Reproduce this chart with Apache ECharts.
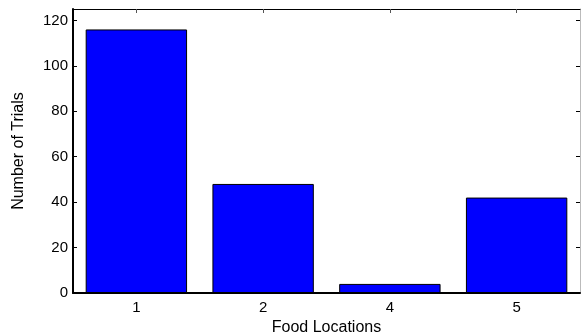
<!DOCTYPE html>
<html>
<head>
<meta charset="utf-8">
<script src="https://cdn.jsdelivr.net/npm/echarts@6/dist/echarts.min.js"></script>
<style>html,body{margin:0;padding:0;background:#fff;}#c{width:582px;height:335px;}</style>
</head>
<body>
<div id="c"></div>
<script>
var categories = ['1', '2', '4', '5'];
var trials = [116, 48, 4, 42];
var yTicks = [0, 20, 40, 60, 80, 100, 120];

var chart = echarts.init(document.getElementById('c'), null, {renderer: 'canvas'});
var font = 'Arial, "Liberation Sans", sans-serif';
chart.setOption({
  animation: false,
  grid: {left: 73, right: 2, top: 9, bottom: 42, containLabel: false, outerBoundsMode: 'none'},
  xAxis: [{
    type: 'category', data: categories, position: 'bottom',
    name: 'Food Locations', nameLocation: 'middle', nameGap: 24,
    nameTextStyle: {color: '#000', fontSize: 16, fontFamily: font},
    axisLine: {onZero: false, lineStyle: {color: '#000', width: 2}},
    axisTick: {show: true, inside: true, alignWithLabel: true, length: 4, lineStyle: {color: '#000'}},
    axisLabel: {color: '#000', fontSize: 15, fontFamily: font, margin: 7}
  }, {
    type: 'category', data: categories, position: 'top',
    axisLine: {onZero: false, lineStyle: {color: '#000', width: 1}},
    axisTick: {show: true, inside: true, alignWithLabel: true, length: 4, lineStyle: {color: '#555'}},
    axisLabel: {show: false}
  }],
  yAxis: [{
    type: 'value', min: 0, max: 125, interval: 20, position: 'left',
    name: 'Number of Trials', nameLocation: 'middle', nameGap: 46,
    nameTextStyle: {color: '#000', fontSize: 16, fontFamily: font},
    axisLine: {show: true, onZero: false, lineStyle: {color: '#000', width: 2}},
    axisTick: {show: true, inside: true, length: 4, lineStyle: {color: '#000'}},
    axisLabel: {color: '#000', fontSize: 15, fontFamily: font, margin: 5,
      formatter: function (v) { return yTicks.indexOf(v) >= 0 ? String(v) : ''; }},
    splitLine: {show: false}
  }, {
    type: 'value', min: 0, max: 125, interval: 20, position: 'right',
    axisLine: {show: true, onZero: false, lineStyle: {color: '#bbb', width: 1}},
    axisTick: {show: true, inside: true, length: 4, lineStyle: {color: '#000'}},
    axisLabel: {show: false},
    splitLine: {show: false}
  }],
  series: [{
    type: 'bar', data: trials, xAxisIndex: 0, yAxisIndex: 0,
    barWidth: '80%',
    itemStyle: {color: '#0000ff', borderColor: '#000', borderWidth: 1}
  }]
});
</script>
</body>
</html>
